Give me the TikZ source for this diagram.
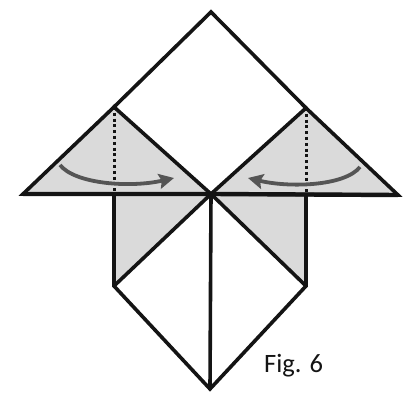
\documentclass[tikz,border=0pt]{standalone}
\usepackage{fontspec}
\setmainfont{Carlito}
\usepackage{xcolor}
\usetikzlibrary{arrows.meta,positioning}
\definecolor{paperGrey}{RGB}{218,218,218}
\definecolor{arrowGrey}{RGB}{85,85,85}
\definecolor{inkBlack}{RGB}{20,20,20}
\tikzset{
  fold/.style={draw=inkBlack, line width=3.6pt, line join=miter},
  baseline fold/.style={draw=inkBlack, line width=4.4pt},
  shade/.style={fill=paperGrey},
  crease/.style={draw=inkBlack, line width=3pt, dash pattern=on 3pt off 2.8pt},
  turn/.style={-{Stealth[length=15pt,width=15pt,inset=2.5pt]}, draw=arrowGrey, line width=3.8pt},
  label/.style={font=\fontsize{26.5}{30}\selectfont, text=inkBlack, inner sep=0pt},
}
\begin{document}
\begin{tikzpicture}[x=1pt,y=-1pt]
        \useasboundingbox (0,0) rectangle (405,393);
        % corners of the folded sheet
        \coordinate (top) at (211,12);
        \coordinate (apexL) at (114,107);
        \coordinate (apexR) at (306,108);
        \coordinate (tipL) at (23,194);
        \coordinate (tipR) at (398,195);
        \coordinate (mid) at (211,194);
        \coordinate (footL) at (114,194);
        \coordinate (footR) at (306,195);
        \coordinate (lowL) at (114,286);
        \coordinate (lowR) at (306,286);
        \coordinate (bottom) at (210,389);
        % grey flaps
        \fill[shade] (tipL) -- (apexL) -- (mid) -- cycle;
        \fill[shade] (tipR) -- (apexR) -- (mid) -- cycle;
        \fill[shade] (footL) -- (mid) -- (lowL) -- cycle;
        \fill[shade] (footR) -- (mid) -- (lowR) -- cycle;
        % creases
        \draw[crease] (apexL) -- (footL);
        \draw[crease] (apexR) -- (footR);
        % outlines
        \draw[fold] (apexL) -- (top) -- (apexR);
        \draw[fold] (tipL) -- (apexL) -- (mid) -- cycle;
        \draw[fold] (tipR) -- (apexR) -- (mid) -- cycle;
        \draw[baseline fold] (tipL) -- (mid) -- (tipR);
        \draw[fold] (footL) -- (lowL) -- (bottom) -- (lowR) -- (footR);
        \draw[fold] (lowL) -- (mid) -- (lowR);
        \draw[fold] (mid) -- (bottom);
        % fold arrows
        \coordinate (startL) at (60,165);
        \coordinate (endL) at (174,178);
        \coordinate (startR) at (360,167);
        \coordinate (endR) at (248,178);
        \draw[turn] (startL) .. controls (75,184) and (130,188) .. (endL);
        \draw[turn] (startR) .. controls (345,186) and (290,188) .. (endR);
        \node[label, anchor=base west] (figlabel) at (264,373) {Fig. 6};
      \end{tikzpicture}
\end{document}
